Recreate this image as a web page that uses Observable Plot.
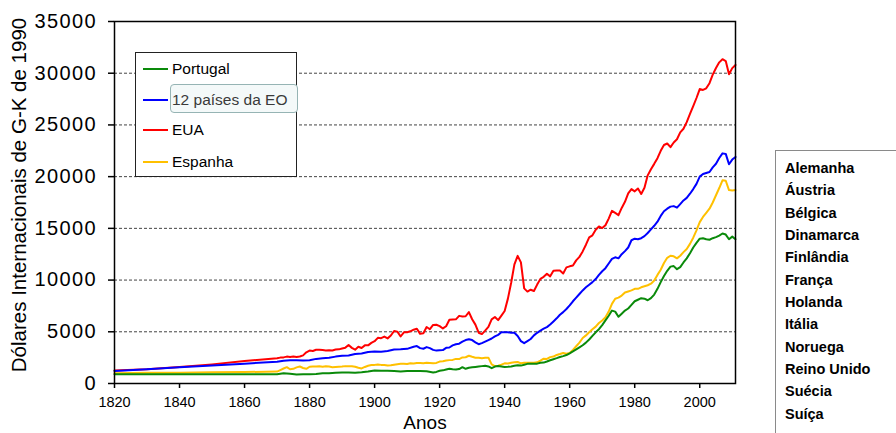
<!DOCTYPE html>
<html><head><meta charset="utf-8">
<script src="https://cdn.jsdelivr.net/npm/d3@7"></script>
<script src="https://cdn.jsdelivr.net/npm/@observablehq/plot@0.6"></script>
<style>
html,body{margin:0;padding:0;background:#fff;}
#wrap{position:relative;width:896px;height:433px;overflow:hidden;font-family:"Liberation Sans",Arial,sans-serif;}
#wrap svg{position:absolute;left:0;top:0;}
.ylab{position:absolute;left:19px;top:195px;transform:translate(-50%,-50%) rotate(-90deg);white-space:nowrap;font-size:20.5px;color:#000;}
.xlab{position:absolute;left:425px;top:422px;transform:translate(-50%,-50%);font-size:19px;line-height:19px;color:#000;}
#legend{position:absolute;left:135px;top:52px;width:162px;height:125px;border:1px solid #222;background:#fff;box-sizing:border-box;}
.li{position:absolute;left:0;height:20px;width:100%;}
.li .sw{position:absolute;left:7px;top:9px;width:25px;height:2px;}
.li .tx{position:absolute;left:36px;top:0;font-size:15.5px;line-height:20px;color:#000;white-space:nowrap;}
.li .hl{position:absolute;left:34px;top:-6px;width:128px;height:29px;border:1px solid #96b4b4;border-radius:4px;background:#f4f9f9;box-sizing:border-box;}
#box{position:absolute;left:775px;top:150px;width:140px;height:300px;border-left:1.5px solid #8a8a8a;border-top:1.5px solid #8a8a8a;box-sizing:border-box;padding:6px 0 0 9px;}
#box div{font-weight:bold;font-size:14.5px;line-height:22.35px;color:#000;white-space:nowrap;}
</style>
</head><body>
<div id="wrap"></div>
<script>
// ---- data (GDP per capita, 1990 G-K international dollars) ----
const seriesNames = ["Portugal", "12 países da EO", "EUA", "Espanha"];
const seriesColors = ["#0a8a0a", "#0000ff", "#ff0000", "#ffc000"];
const countriesEO = ["Alemanha","Áustria","Bélgica","Dinamarca","Finlândia","França","Holanda","Itália","Noruega","Reino Unido","Suécia","Suíça"];
const xTicks = [1820,1840,1860,1880,1900,1920,1940,1960,1980,2000];
const yTicks = [0,5000,10000,15000,20000,25000,30000,35000];

const usaYears = [1820,1830,1840,1850,1860,1870,1871,1872,1873,1874,1875,1876,1877,1878,1879,1880,1881,1882,1883,1884,1885,1886,1887,1888,1889,1890,1891,1892,1893,1894,1895,1896,1897,1898,1899,1900,1901,1902,1903,1904,1905,1906,1907,1908,1909,1910,1911,1912,1913,1914,1915,1916,1917,1918,1919,1920,1921,1922,1923,1924,1925,1926,1927,1928,1929,1930,1931,1932,1933,1934,1935,1936,1937,1938,1939,1940,1941,1942,1943,1944,1945,1946,1947,1948,1949,1950,1951,1952,1953,1954,1955,1956,1957,1958,1959,1960,1961,1962,1963,1964,1965,1966,1967,1968,1969,1970,1971,1972,1973,1974,1975,1976,1977,1978,1979,1980,1981,1982,1983,1984,1985,1986,1987,1988,1989,1990,1991,1992,1993,1994,1995,1996,1997,1998,1999,2000,2001,2002,2003,2004,2005,2006,2007,2008,2009,2010,2011];
const usaValues = [1257,1376,1588,1849,2178,2445,2503,2524,2599,2567,2599,2570,2605,2719,3018,3184,3144,3259,3263,3230,3194,3206,3197,3282,3301,3392,3466,3716,3445,3273,3549,3431,3687,3688,3925,4091,4416,4382,4535,4363,4637,5075,5014,4543,4949,4964,5046,5201,5301,4799,4864,5459,5248,5659,5680,5552,5323,5540,6164,6195,6205,6539,6482,6502,6899,6213,5691,4908,4777,5114,5467,6204,6430,6126,6561,7010,8206,9741,11518,12341,11709,9197,8886,9065,8944,9561,10116,10316,10613,10359,10897,10914,10920,10631,11230,11328,11402,11905,12242,12773,13419,14134,14330,14863,15179,15030,15304,15944,16689,16491,16284,16975,17567,18373,18789,18577,18856,18325,18920,20123,20717,21236,21788,22499,23059,23201,22849,23298,23616,24284,24632,25267,26062,26809,27604,28467,28384,28542,29037,29863,30508,31050,31357,31178,29899,30491,30800];

const eoYears = [1820,1830,1840,1850,1860,1870,1872,1874,1876,1878,1880,1882,1884,1886,1888,1890,1892,1894,1896,1898,1900,1902,1904,1906,1908,1910,1912,1913,1914,1915,1916,1917,1918,1919,1920,1921,1922,1923,1924,1925,1926,1927,1928,1929,1930,1931,1932,1933,1934,1935,1936,1937,1938,1939,1940,1941,1942,1943,1944,1945,1946,1947,1948,1949,1950,1951,1952,1953,1954,1955,1956,1957,1958,1959,1960,1961,1962,1963,1964,1965,1966,1967,1968,1969,1970,1971,1972,1973,1974,1975,1976,1977,1978,1979,1980,1981,1982,1983,1984,1985,1986,1987,1988,1989,1990,1991,1992,1993,1994,1995,1996,1997,1998,1999,2000,2001,2002,2003,2004,2005,2006,2007,2008,2009,2010,2011];
const eoValues = [1210,1380,1560,1740,1920,2100,2200,2250,2240,2220,2250,2380,2450,2480,2600,2680,2700,2850,2900,3050,3100,3080,3150,3280,3300,3350,3560,3620,3420,3360,3520,3420,3250,3180,3220,3230,3450,3480,3680,3800,3850,4050,4200,4280,4200,3980,3800,3900,4050,4200,4350,4550,4700,4950,4950,4950,4900,4900,4600,4100,3900,4100,4300,4650,4900,5120,5300,5450,5700,6000,6300,6650,6900,7200,7550,7950,8300,8650,9000,9300,9550,9800,10100,10500,10850,11150,11600,12050,12200,12100,12500,12800,13150,13850,14000,13950,14050,14250,14550,14900,15250,15650,16200,16650,16900,17100,17150,17000,17350,17700,17950,18350,18800,19300,20000,20250,20350,20450,20900,21250,21800,22250,22200,21200,21650,21900];

const espYears = [1820,1830,1840,1850,1860,1870,1871,1872,1873,1874,1875,1876,1877,1878,1879,1880,1881,1882,1883,1884,1885,1886,1887,1888,1889,1890,1891,1892,1893,1894,1895,1896,1897,1898,1899,1900,1901,1902,1903,1904,1905,1906,1907,1908,1909,1910,1911,1912,1913,1914,1915,1916,1917,1918,1919,1920,1921,1922,1923,1924,1925,1926,1927,1928,1929,1930,1931,1932,1933,1934,1935,1936,1937,1938,1939,1940,1941,1942,1943,1944,1945,1946,1947,1948,1949,1950,1951,1952,1953,1954,1955,1956,1957,1958,1959,1960,1961,1962,1963,1964,1965,1966,1967,1968,1969,1970,1971,1972,1973,1974,1975,1976,1977,1978,1979,1980,1981,1982,1983,1984,1985,1986,1987,1988,1989,1990,1991,1992,1993,1994,1995,1996,1997,1998,1999,2000,2001,2002,2003,2004,2005,2006,2007,2008,2009,2010,2011];
const espValues = [1000,1030,1050,1080,1110,1150,1300,1450,1580,1380,1420,1560,1640,1500,1420,1620,1650,1640,1660,1620,1670,1640,1580,1600,1620,1640,1680,1660,1670,1620,1520,1460,1600,1720,1790,1800,1840,1800,1780,1740,1760,1820,1870,1900,1920,1880,1950,1940,1980,1980,1960,2000,1990,1960,1990,2120,2150,2220,2260,2280,2380,2360,2520,2540,2680,2580,2490,2500,2450,2480,2500,1850,1690,1720,1820,1950,1930,2000,2050,2080,1950,2000,2010,2000,2000,2050,2220,2400,2380,2550,2600,2760,2850,2950,2880,2950,3250,3600,3950,4400,4650,4950,5250,5500,5850,6100,6400,6950,7700,8200,8300,8500,8800,8900,9000,9150,9150,9300,9400,9500,9650,9950,10500,11000,11650,12150,12350,12300,12100,12350,12700,13000,13500,14100,14800,15600,16100,16500,16900,17500,18200,18900,19650,19600,18700,18650,18700];

const porYears = [1820,1830,1840,1850,1860,1870,1872,1874,1876,1878,1880,1882,1884,1886,1888,1890,1892,1894,1896,1898,1900,1902,1904,1906,1908,1910,1912,1913,1914,1916,1918,1919,1920,1921,1922,1923,1924,1925,1926,1927,1928,1929,1930,1931,1932,1933,1934,1935,1936,1937,1938,1939,1940,1941,1942,1943,1944,1945,1946,1947,1948,1949,1950,1951,1952,1953,1954,1955,1956,1957,1958,1959,1960,1961,1962,1963,1964,1965,1966,1967,1968,1969,1970,1971,1972,1973,1974,1975,1976,1977,1978,1979,1980,1981,1982,1983,1984,1985,1986,1987,1988,1989,1990,1991,1992,1993,1994,1995,1996,1997,1998,1999,2000,2001,2002,2003,2004,2005,2006,2007,2008,2009,2010,2011];
const porValues = [900,900,890,890,890,900,1000,950,880,900,900,920,980,1000,1050,1060,1060,1050,1080,1150,1250,1240,1230,1200,1170,1200,1220,1210,1200,1180,1060,1120,1230,1270,1350,1430,1380,1350,1400,1580,1420,1520,1560,1600,1640,1680,1720,1650,1480,1640,1700,1650,1600,1620,1650,1720,1760,1730,1820,1900,1900,1900,1920,2000,2020,2130,2250,2350,2450,2560,2650,2750,2920,3100,3300,3500,3700,3950,4250,4600,4950,5250,5650,6100,6550,7050,6950,6450,6750,7050,7250,7600,7950,8100,8250,8200,8050,8250,8600,9150,9800,10400,10900,11300,11350,11050,11250,11700,12100,12600,13150,13600,14000,14050,13950,13900,14050,14150,14300,14500,14400,13950,14200,13950];

const seriesYears = [porYears, eoYears, usaYears, espYears];
const seriesValues = [porValues, eoValues, usaValues, espValues];

// ---- chart ----
const lineMarks = [2, 1, 3, 0].map(k =>
  Plot.line(seriesValues[k], {x: (d, i) => seriesYears[k][i], y: d => d, stroke: seriesColors[k], strokeWidth: 2, curve: "linear"})
);

const chart = Plot.plot({
  width: 896, height: 433,
  marginLeft: 114, marginRight: 161, marginTop: 21, marginBottom: 50,
  style: {fontFamily: "'Liberation Sans', Arial, sans-serif", background: "transparent", overflow: "visible"},
  x: {domain: [1820, 2011], label: null},
  y: {domain: [0, 35000], label: null},
  marks: [
    Plot.ruleY(yTicks.filter(v => v > 0 && v < 35000), {stroke: "#444", strokeWidth: 1, strokeDasharray: "3,2"}),
    ...lineMarks,
    Plot.frame({stroke: "#000", strokeWidth: 1.5}),
    Plot.axisX(xTicks, {tickSize: 5, tickPadding: 8, tickFormat: d => String(d), fontSize: 14.5, label: null, stroke: "#000", strokeWidth: 1.5}),
    Plot.axisY(yTicks, {tickSize: 6, tickPadding: 11.5, tickFormat: d => String(d), fontSize: 20, label: null, stroke: "#000", strokeWidth: 1.5})
  ]
});
d3.select(chart).selectAll('g[aria-label="y-axis tick label"] text').style("letter-spacing", "1.4px");

const wrap = document.getElementById("wrap");
wrap.appendChild(chart);

const yl = document.createElement("div"); yl.className = "ylab"; yl.textContent = "Dólares Internacionais de G-K de 1990"; wrap.appendChild(yl);
const xl = document.createElement("div"); xl.className = "xlab"; xl.textContent = "Anos"; wrap.appendChild(xl);

const leg = document.createElement("div"); leg.id = "legend";
const rowTops = [6, 36.5, 67, 99];
seriesNames.forEach((name, i) => {
  const r = document.createElement("div"); r.className = "li"; r.style.top = rowTops[i] + "px";
  if (i === 1) { const h = document.createElement("div"); h.className = "hl"; r.appendChild(h); }
  const s = document.createElement("div"); s.className = "sw"; s.style.background = seriesColors[i]; r.appendChild(s);
  const t = document.createElement("div"); t.className = "tx"; t.textContent = name; if (i === 1) t.style.color = "#3a3a3a"; r.appendChild(t);
  leg.appendChild(r);
});
wrap.appendChild(leg);

const box = document.createElement("div"); box.id = "box";
countriesEO.forEach(c => { const d = document.createElement("div"); d.textContent = c; box.appendChild(d); });
wrap.appendChild(box);
</script>
</body></html>
